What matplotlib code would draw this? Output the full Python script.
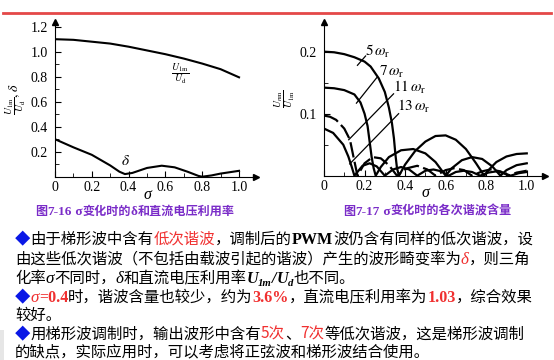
import matplotlib.pyplot as plt
import numpy as np
from matplotlib.lines import Line2D
from matplotlib.patches import Rectangle

plt.rcParams['mathtext.fontset'] = 'stix'

# left chart: U1m/Ud and delta vs sigma
sig_u = [0, 0.1, 0.2, 0.3, 0.4, 0.5, 0.6, 0.7, 0.8, 0.9, 1.0]
u1m_ud = [1.10, 1.095, 1.08, 1.065, 1.04, 1.01, 0.98, 0.945, 0.905, 0.86, 0.795]
sig_d = [0, 0.1, 0.2, 0.3, 0.35, 0.38, 0.42, 0.5, 0.58, 0.65, 0.72, 0.78, 0.8, 0.85, 0.9, 1.0]
delta = [0.30, 0.235, 0.175, 0.09, 0.04, 0.021, 0.03, 0.07, 0.088, 0.075, 0.04, 0.006, 0.0, 0.01, 0.025, 0.047]

# right chart: harmonic content vs sigma
s5 = [0, 0.05, 0.1, 0.15, 0.2, 0.23, 0.27, 0.3, 0.32, 0.335, 0.345, 0.352, 0.36, 0.37,
      0.4, 0.45, 0.5, 0.55, 0.6, 0.65, 0.7, 0.75, 0.79, 0.82, 0.85, 0.9, 0.95, 1.0]
v5 = [0.2, 0.199, 0.196, 0.191, 0.184, 0.176, 0.157, 0.135, 0.11, 0.085, 0.06, 0.035, 0.012, 0,
      0.018, 0.04, 0.055, 0.064, 0.065, 0.058, 0.043, 0.02, 0, 0.012, 0.022, 0.031, 0.035, 0.036]
s7 = [0, 0.05, 0.1, 0.15, 0.18, 0.2, 0.215, 0.225, 0.235, 0.245, 0.255, 0.28, 0.32, 0.38,
      0.44, 0.5, 0.55, 0.6, 0.63, 0.68, 0.73, 0.78, 0.83, 0.87, 0.9, 0.95, 1.0]
v7 = [0.142, 0.141, 0.138, 0.131, 0.118, 0.1, 0.08, 0.055, 0.03, 0.012, 0, 0.014, 0.03, 0.041,
      0.043, 0.036, 0.022, 0, 0.012, 0.025, 0.03, 0.027, 0.015, 0, 0.009, 0.017, 0.02]
s11 = [0, 0.03, 0.06, 0.1, 0.128, 0.145, 0.165, 0.2, 0.24, 0.28, 0.32, 0.36, 0.41, 0.46, 0.51,
       0.55, 0.6, 0.64, 0.69, 0.73, 0.78, 0.82, 0.87, 0.91, 0.95, 1.0]
v11 = [0.097, 0.095, 0.09, 0.076, 0.058, 0.031, 0, 0.02, 0.03, 0.028, 0.017, 0, 0.012, 0.016, 0.01,
       0, 0.009, 0.012, 0.009, 0, 0.007, 0.01, 0.007, 0, 0.005, 0.008]
s13 = [0, 0.045, 0.095, 0.12, 0.136, 0.15, 0.19, 0.225, 0.26, 0.3, 0.34, 0.38, 0.42, 0.46, 0.5,
       0.54, 0.58, 0.615, 0.65, 0.69, 0.73, 0.77, 0.81, 0.85, 0.89, 0.92, 0.96, 1.0]
v13 = [0.076, 0.069, 0.05, 0.031, 0.015, 0, 0.016, 0.02, 0.015, 0, 0.01, 0.014, 0.01, 0, 0.008,
       0.01, 0.007, 0, 0.006, 0.008, 0.006, 0, 0.005, 0.007, 0.004, 0, 0.004, 0.006]

x_ticks = [0, 0.2, 0.4, 0.6, 0.8, 1.0]
x_labels = ['0', '0.2', '0.4', '0.6', '0.8', '1.0']

W, H = 554, 360
fig = plt.figure(figsize=(W / 100, H / 100), dpi=100)

serif = 'Liberation Serif'
cjk = ['Noto Sans CJK SC', 'DejaVu Sans']
red = '#F03030'
blue = '#0A18E6'
purple = '#7A2CC8'


def style_axes(ax):
    for s in ['top', 'right']:
        ax.spines[s].set_visible(False)
    ax.plot(1, 0, '>k', ms=5, transform=ax.transAxes, clip_on=False)
    ax.plot(0, 1, '^k', ms=5, transform=ax.transAxes, clip_on=False)
    ax.tick_params(which='both', direction='in', labelsize=10)
    ax.tick_params(axis='x', pad=3)
    ax.tick_params(axis='y', pad=5)
    ax.tick_params(which='major', length=4)
    ax.tick_params(which='minor', length=3)
    ax.set_xticks(x_ticks)
    ax.set_xticklabels(x_labels, family=serif)
    ax.set_xticks(np.arange(0.1, 1.0, 0.2), minor=True)
    ax.set_xlim(0, 1.09)
    ax.text(0.5, -0.115, 'σ', fontsize=11.5, family=serif, style='italic',
            ha='center', va='center', transform=ax.get_xaxis_transform())


# left axes
axL = fig.add_axes([55 / W, (H - 176.7) / H, 200.6 / W, 155 / H])
style_axes(axL)
axL.set_ylim(0, 1.24)
axL.set_yticks([0.2, 0.4, 0.6, 0.8, 1.0, 1.2])
axL.set_yticklabels(['0.2', '0.4', '0.6', '0.8', '1.0', '1.2'], family=serif)
axL.set_yticks([0.1, 0.3, 0.5, 0.7, 0.9, 1.1], minor=True)
axL.plot(sig_u, u1m_ud, color='k', lw=1.5)
axL.plot(sig_d, delta, color='k', lw=1.5)
axL.text(0.63, 0.8, r'$\frac{U_{1\mathrm{m}}}{U_\mathrm{d}}$', fontsize=10)
axL.text(0.36, 0.09, r'$\delta$', fontsize=11)
axL.set_ylabel(r'$\frac{U_{1\mathrm{m}}}{U_\mathrm{d}},\delta$', fontsize=10, labelpad=2)

# right axes
axR = fig.add_axes([324 / W, (H - 175.7) / H, 221 / W, 153.8 / H])
style_axes(axR)
axR.set_ylim(0, 0.248)
axR.set_yticks([0.1, 0.2])
axR.set_yticklabels(['0.1', '0.2'], family=serif)
axR.set_yticks([0.05, 0.15], minor=True)
axR.plot(s5, v5, color='k', lw=1.6)
axR.plot(s7, v7, color='k', lw=1.6)
axR.plot(s11, v11, color='k', lw=1.6, ls=(0, (7, 2)))
axR.plot(s13, v13, color='k', lw=1.6)
axR.set_ylabel(r'$\frac{U_{n\mathrm{m}}}{U_{1\mathrm{m}}}$', fontsize=10, labelpad=2)

labels = [r'$5\,\omega_\mathrm{r}$', r'$7\,\omega_\mathrm{r}$',
          r'$11\,\omega_\mathrm{r}$', r'$13\,\omega_\mathrm{r}$']
txt_pos = [(0.2, 0.2), (0.27, 0.168), (0.34, 0.142), (0.36, 0.112)]
lead = [((0.165, 0.178), (0.205, 0.193)), ((0.16, 0.117), (0.26, 0.158)),
        ((0.122, 0.058), (0.343, 0.132)), ((0.127, 0.019), (0.368, 0.1))]
for lab, (tx, ty), (p0, p1) in zip(labels, txt_pos, lead):
    axR.text(tx, ty, lab, fontsize=11, va='center')
    axR.plot([p0[0], p1[0]], [p0[1], p1[1]], color='k', lw=0.9)

# red line on top and grey edge
fig.add_artist(Line2D([3 / W, 551 / W], [1 - 13 / H, 1 - 13 / H], color='#E44848', lw=2))
fig.add_artist(Rectangle((0, 0), 4 / W, 30 / H, color='#E6E6E6', lw=0))

renderer = fig.canvas.get_renderer()


def put(x, y, segs):
    for s, kw, *dy in segs:
        off = dy[0] if dy else 0
        t = fig.text(x / W, 1 - (y + off) / H, s, va='baseline', ha='left', **kw)
        x += t.get_window_extent(renderer).width
    return x


# captions
cap = dict(family=cjk, fontsize=8.7, color=purple, weight='bold')
capl = dict(family=serif, fontsize=9.5, color=purple, weight='bold')
put(35, 215, [('图', cap), ('7-16', capl), (' σ', capl), ('变化时的', cap), ('δ', capl),
              ('和直流电压利用率', cap)])
put(343, 215, [('图', cap), ('7-17', capl), (' σ', capl), ('变化时的各次谐波含量', cap)])

# body text
fs = 11.1
ck = dict(family=cjk, fontsize=fs, color='k')
cr = dict(family=cjk, fontsize=fs, color=red)
dia = dict(family=cjk, fontsize=fs, color=blue)
lb = dict(family=serif, fontsize=fs * 1.05, color='k', weight='bold')
lr = dict(family=serif, fontsize=fs * 1.05, color=red, weight='bold')
ik = dict(family=serif, fontsize=fs * 1.1, color='k', style='italic')
ir = dict(family=serif, fontsize=fs * 1.1, color=red, style='italic')
ub = dict(family=serif, fontsize=fs * 1.05, color='k', weight='bold', style='italic')
us = dict(family=serif, fontsize=fs * 0.7, color='k', weight='bold', style='italic')

base = [244, 264, 283, 302, 320, 339, 356]
put(15, base[0], [('◆', dia), ('由于梯形波中含有', ck), ('低次谐波', cr), ('，调制后的', ck),
                  ('PWM', lb), ('波仍含有同样的低次谐波，设', ck)])
put(15, base[1], [('由这些低次谐波（不包括由载波引起的谐波）产生的波形畸变率为', ck), ('δ', ir),
                  ('，则三角', ck)])
put(15, base[2], [('化率', ck), ('σ', ik), ('不同时，', ck), ('δ', ik), ('和直流电压利用率', ck),
                  ('U', ub), ('1m', us, 3), ('/', ub), ('U', ub), ('d', us, 3), ('也不同。', ck)])
put(15, base[3], [('◆', dia), ('σ', ir), ('=0.4', lr), ('时，谐波含量也较少，约为', ck), ('3.6%', lr),
                  ('，直流电压利用率为', ck), ('1.03', lr), ('，综合效果', ck)])
put(15, base[4], [('较好。', ck)])
put(15, base[5], [('◆', dia), ('用梯形波调制时，输出波形中含有', ck), ('5次', cr), ('、', ck),
                  ('7次', cr), ('等低次谐波，这是梯形波调制', ck)])
put(15, base[6], [('的缺点，实际应用时，可以考虑将正弦波和梯形波结合使用。', ck)])

fig.savefig('out.png', dpi=100)
